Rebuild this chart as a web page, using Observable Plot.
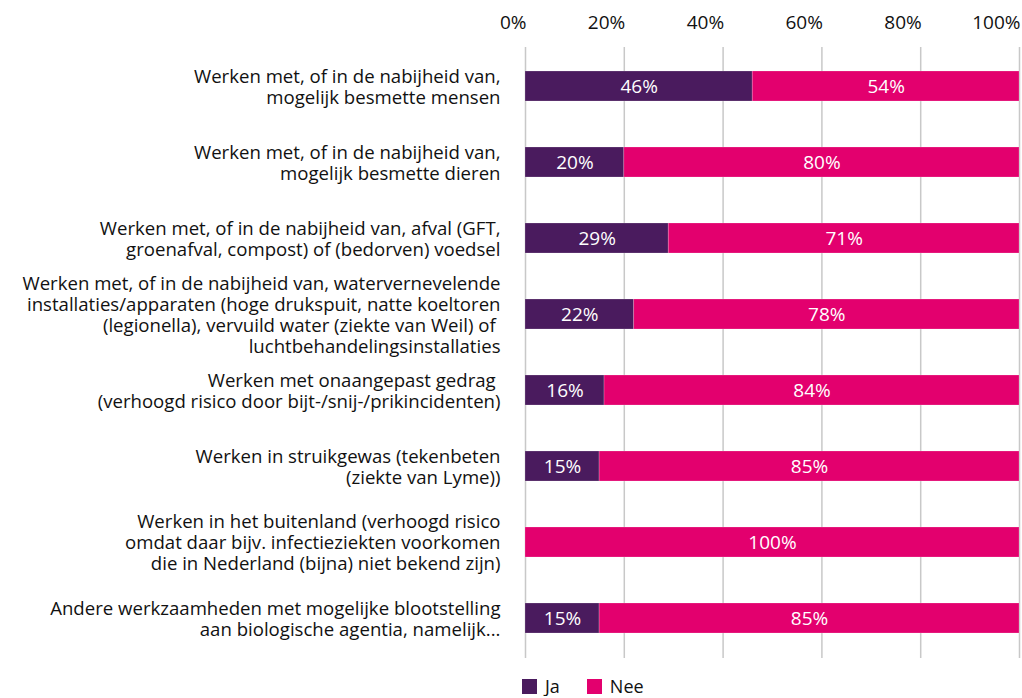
<!DOCTYPE html>
<html>
<head>
<meta charset="utf-8">
<script src="https://cdn.jsdelivr.net/npm/d3@7"></script>
<script src="https://cdn.jsdelivr.net/npm/@observablehq/plot@0.6"></script>
<style>
  body { margin: 0; background: #fff; font-family: "Open Sans", sans-serif; overflow: hidden; }
  #chart svg { display: block; }
  #legend { display: flex; align-items: center; height: 20px; line-height: 20px; margin-left: 522px; margin-top: 4px; font-size: 18px; color: #111; }
  .sw { width: 15px; height: 15px; display: inline-block; margin-right: 8px; }
  .item { display: flex; align-items: center; margin-right: 27px; }
</style>
</head>
<body>
<div id="chart"></div>
<div id="legend"></div>
<script>
const categories = [
  "Werken met, of in de nabijheid van,\nmogelijk besmette mensen",
  "Werken met, of in de nabijheid van,\nmogelijk besmette dieren",
  "Werken met, of in de nabijheid van, afval (GFT,\ngroenafval, compost) of (bedorven) voedsel",
  "Werken met, of in de nabijheid van, watervernevelende\ninstallaties/apparaten (hoge drukspuit, natte koeltoren\n(legionella), vervuild water (ziekte van Weil) of \nluchtbehandelingsinstallaties",
  "Werken met onaangepast gedrag \n(verhoogd risico door bijt-/snij-/prikincidenten)",
  "Werken in struikgewas (tekenbeten\n(ziekte van Lyme))",
  "Werken in het buitenland (verhoogd risico\nomdat daar bijv. infectieziekten voorkomen\ndie in Nederland (bijna) niet bekend zijn)",
  "Andere werkzaamheden met mogelijke blootstelling\naan biologische agentia, namelijk..."
];
const series = ["Ja", "Nee"];
const ja  = [46, 20, 29, 22, 16, 15, 0, 15];
const nee = [54, 80, 71, 78, 84, 85, 100, 85];
const xTicks = [0, 20, 40, 60, 80, 100];
const colors = ["#4a1b5e", "#e3006e"];

const rows = [];
categories.forEach((c, i) => {
  rows.push({cat: c, answer: "Ja", value: ja[i]});
  rows.push({cat: c, answer: "Nee", value: nee[i]});
});

const font = "'Open Sans', sans-serif";
const chart = Plot.plot({
  width: 1022,
  height: 672,
  marginLeft: 525,
  marginRight: 3,
  marginTop: 47,
  marginBottom: 14,
  style: {fontFamily: font, fontSize: "16px", color: "#111", background: "#fff"},
  x: {domain: [0, 100]},
  y: {domain: categories, paddingInner: 0.6, paddingOuter: 0.283},
  color: {domain: series, range: colors},
  marks: [
    Plot.gridX(xTicks, {stroke: "#c8c8c8", strokeOpacity: 1, strokeWidth: 1.5}),
    Plot.axisX(xTicks, {anchor: "top", tickSize: 0, tickPadding: 19, tickFormat: d => d + "%", textAnchor: "end", dx: 1, fontSize: 19, label: null}),
    Plot.axisY({tickSize: 0, tickPadding: 25, fontSize: 18.6, lineHeight: 1.13, label: null, textAnchor: "end"}),
    Plot.barX(rows, Plot.stackX({x: "value", y: "cat", fill: "answer", order: series, stroke: "#fff", strokeOpacity: 0.25, strokeWidth: 0.8})),
    Plot.text(rows, Plot.stackX({x: "value", y: "cat", z: "answer", order: series, text: d => d.value > 0 ? d.value + "%" : "", fill: "#fff", fontSize: 19}))
  ]
});
document.getElementById("chart").appendChild(chart);

const legend = document.getElementById("legend");
series.forEach((s, i) => {
  const it = document.createElement("div");
  it.className = "item";
  it.innerHTML = `<span class="sw" style="background:${colors[i]}"></span><span>${s}</span>`;
  legend.appendChild(it);
});
</script>
</body>
</html>
